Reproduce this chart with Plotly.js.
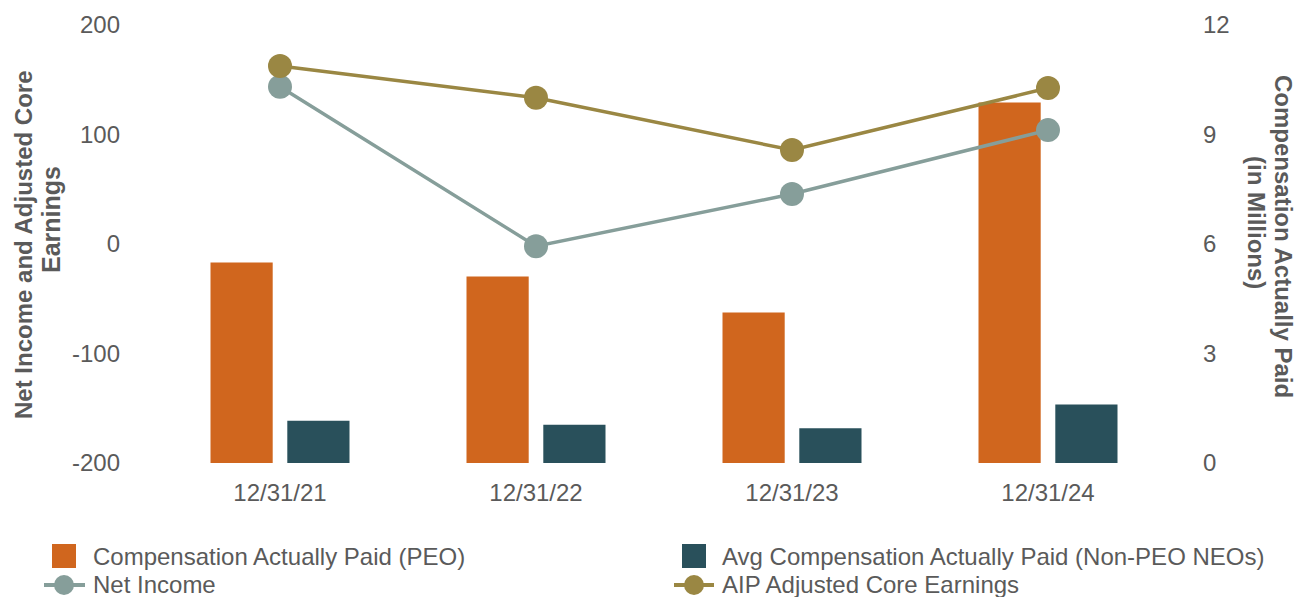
<!DOCTYPE html>
<html>
<head>
<meta charset="utf-8">
<script src="https://cdn.plot.ly/plotly-3.0.1.min.js"></script>
<style>
  html, body { margin: 0; padding: 0; background: #ffffff; }
  #chart { width: 1304px; height: 597px; }
</style>
</head>
<body>
<div id="chart"></div>
<script>
// Fiscal year-end periods
const periods = ['12/31/21', '12/31/22', '12/31/23', '12/31/24'];

// Compensation actually paid, $ millions (right axis)
const capPeo = [5.49, 5.11, 4.12, 9.88];
const capNonPeo = [1.16, 1.05, 0.95, 1.60];

// Earnings measures (left axis)
const netIncome = [143.6, -2.0, 45.6, 104.0];
const aipCoreEarnings = [162.5, 133.6, 85.8, 142.4];

// Axis ticks
const leftTicks = [-200, -100, 0, 100, 200];
const rightTicks = [0, 3, 6, 9, 12];

// Series names
const names = {
  peo: 'Compensation Actually Paid (PEO)',
  nonPeo: 'Avg Compensation Actually Paid (Non-PEO NEOs)',
  net: 'Net Income',
  aip: 'AIP Adjusted Core Earnings'
};

const colors = {
  peo: '#D0661E',
  nonPeo: '#29505B',
  net: '#869E9A',
  aip: '#9A8743',
  text: '#5a5a5a'
};

const FONT = 'Liberation Sans, Arial, Helvetica, sans-serif';
const W = 1304, H = 597, L = 152, R = 128, T = 25, B = 134;
const PW = W - L - R, PH = H - T - B;
const px = x => (x - L) / PW;
const py = y => (H - B - y) / PH;

const traces = [
  {
    type: 'bar', name: names.peo, x: periods, y: capPeo, yaxis: 'y',
    marker: { color: colors.peo, line: { width: 0 } }, showlegend: false
  },
  {
    type: 'bar', name: names.nonPeo, x: periods, y: capNonPeo, yaxis: 'y',
    marker: { color: colors.nonPeo, line: { width: 0 } }, showlegend: false
  },
  {
    type: 'scatter', mode: 'lines+markers', name: names.net, x: periods, y: netIncome, yaxis: 'y2',
    line: { color: colors.net, width: 3.5 }, marker: { color: colors.net, size: 24 }, showlegend: false
  },
  {
    type: 'scatter', mode: 'lines+markers', name: names.aip, x: periods, y: aipCoreEarnings, yaxis: 'y2',
    line: { color: colors.aip, width: 3.5 }, marker: { color: colors.aip, size: 24 }, showlegend: false
  }
];

// Legend drawn as shapes + text below the plot
const shapes = [
  { type: 'rect', xref: 'paper', yref: 'paper', x0: px(52), x1: px(76), y0: py(568), y1: py(544),
    fillcolor: colors.peo, line: { width: 0 } },
  { type: 'rect', xref: 'paper', yref: 'paper', x0: px(682), x1: px(706), y0: py(568), y1: py(544),
    fillcolor: colors.nonPeo, line: { width: 0 } },
  { type: 'line', xref: 'paper', yref: 'paper', x0: px(44), x1: px(85), y0: py(585), y1: py(585),
    line: { color: colors.net, width: 4 } },
  { type: 'circle', xref: 'paper', yref: 'paper', xsizemode: 'pixel', ysizemode: 'pixel',
    xanchor: px(64), yanchor: py(585), x0: -10, x1: 10, y0: -10, y1: 10,
    fillcolor: colors.net, line: { width: 0 } },
  { type: 'line', xref: 'paper', yref: 'paper', x0: px(674), x1: px(714), y0: py(585), y1: py(585),
    line: { color: colors.aip, width: 4 } },
  { type: 'circle', xref: 'paper', yref: 'paper', xsizemode: 'pixel', ysizemode: 'pixel',
    xanchor: px(694), yanchor: py(585), x0: -10, x1: 10, y0: -10, y1: 10,
    fillcolor: colors.aip, line: { width: 0 } }
];

const legendText = (text, x, y) => ({
  text, xref: 'paper', yref: 'paper', x: px(x), y: py(y),
  xanchor: 'left', yanchor: 'middle', showarrow: false,
  font: { family: FONT, size: 24, color: colors.text }
});

const titleText = (text, x, y, angle, size) => ({
  text, xref: 'paper', yref: 'paper', x: px(x), y: py(y),
  xanchor: 'center', yanchor: 'middle', showarrow: false, textangle: angle,
  font: { family: FONT, size: size, color: colors.text, weight: 'bold' }
});

const annotations = [
  legendText(names.peo, 91, 556),
  legendText(names.nonPeo, 720, 556),
  legendText(names.net, 91, 584),
  legendText(names.aip, 720, 584),
  titleText('<b>Net Income and Adjusted Core</b>', 23, 245, -90, 24),
  titleText('<b>Earnings</b>', 51, 220, -90, 25),
  titleText('<b>Compensation Actually Paid</b>', 1284, 236, 90, 24),
  titleText('<b>(in Millions)</b>', 1256, 222, 90, 24)
];

const tickFont = { family: FONT, size: 24, color: colors.text };

const layout = {
  width: W, height: H,
  margin: { l: L, r: R, t: T, b: B, pad: 0 },
  paper_bgcolor: '#ffffff', plot_bgcolor: '#ffffff',
  barmode: 'group', bargap: 0.4, bargroupgap: 0.19,
  showlegend: false,
  xaxis: {
    type: 'category', range: [-0.5, 3.5], showgrid: false, zeroline: false,
    showline: false, ticks: '', tickfont: tickFont, ticklabelstandoff: 13
  },
  yaxis: {
    side: 'right', range: [0, 12], tickvals: rightTicks, ticktext: rightTicks.map(String),
    showgrid: false, zeroline: false, showline: false, ticks: '',
    tickfont: tickFont, ticklabelstandoff: 26
  },
  yaxis2: {
    overlaying: 'y', side: 'left', range: [-200, 200], tickvals: leftTicks, ticktext: leftTicks.map(String),
    showgrid: false, zeroline: false, showline: false, ticks: '',
    tickfont: tickFont, ticklabelstandoff: 31
  },
  shapes, annotations,
  font: { family: FONT, color: colors.text }
};

Plotly.newPlot('chart', traces, layout, { staticPlot: true, displayModeBar: false });
</script>
</body>
</html>
